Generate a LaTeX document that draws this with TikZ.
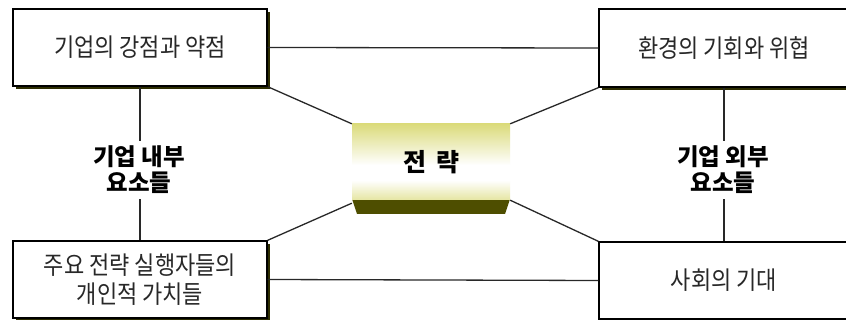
\documentclass[tikz,border=0pt]{standalone}
\usepackage{fontspec}
\setmainfont{Noto Sans CJK KR}[FakeStretch=0.88]
\newfontfamily\krwide{Noto Sans CJK KR}
\usetikzlibrary{shadows}
\definecolor{ylw}{RGB}{196,196,40}
\definecolor{olivedark}{RGB}{78,78,0}
\definecolor{shadowc}{RGB}{45,45,0}
\definecolor{txt}{RGB}{40,40,40}
\definecolor{linec}{RGB}{40,40,40}
\pgfdeclareverticalshading{cshade}{100bp}{color(0bp)=(ylw); color(8bp)=(ylw); color(38bp)=(white); color(48bp)=(white); color(92bp)=(ylw); color(100bp)=(ylw)}
\tikzset{
  box/.style={draw=black, line width=1.4pt, fill=white, inner sep=0pt, align=center,
    text=txt, font=\fontsize{25}{29}\selectfont,
    drop shadow={shadow xshift=3pt, shadow yshift=-3pt, fill=shadowc, opacity=1}},
  lbl/.style={align=center, inner sep=5pt, font=\krwide\bfseries\fontsize{23.5}{26}\selectfont},
  conn/.style={draw=linec, line width=1.3pt},
}
\begin{document}
\begin{tikzpicture}[x=1pt,y=-1pt]
\useasboundingbox (0,0) rectangle (846,320);
\fill[white] (0,0) rectangle (846,320);
% boxes
\node[box, minimum width=254pt, minimum height=77pt] (tl) at (140,47.5) {기업의 강점과 약점};
\node[box, minimum width=250pt, minimum height=78pt] (tr) at (724,48) {환경의 기회와 위협};
\node[box, minimum width=254pt, minimum height=77pt] (bl) at (140,279.5) {주요 전략 실행자들의\\개인적 가치들};
\node[box, minimum width=250pt, minimum height=77pt] (br) at (724,280.5) {사회의 기대};
% center
\fill[olivedark] (352,199) -- (510,199) -- (505,214) -- (357,214) -- cycle;
\node[shading=cshade, minimum width=158pt, minimum height=76pt, inner sep=0pt,
  font=\krwide\bfseries\fontsize{25}{28}\selectfont] (c) at (431,162) {전\hspace{10pt}략};
% labels
\node[lbl] (ll) at (139,170) {기업 내부\\요소들};
\node[lbl] (rl) at (723,170) {기업 외부\\요소들};
% connectors
\draw[conn] (tl.east) -- (tr.west);
\draw[conn] (bl.east) -- (br.west);
\draw[conn] (tl.south) -- (tl.south |- ll.north);
\draw[conn] (bl.north |- ll.south) -- (bl.north);
\draw[conn] (tr.south) -- (tr.south |- rl.north);
\draw[conn] (br.north |- rl.south) -- (br.north);
\draw[conn] (tl.south east) -- (c.north west);
\draw[conn] (tr.south west) -- (c.north east);
\draw[conn] (bl.north east) -- ([yshift=-3pt]c.south west);
\draw[conn] (br.north west) -- (c.south east);
\end{tikzpicture}
\end{document}
